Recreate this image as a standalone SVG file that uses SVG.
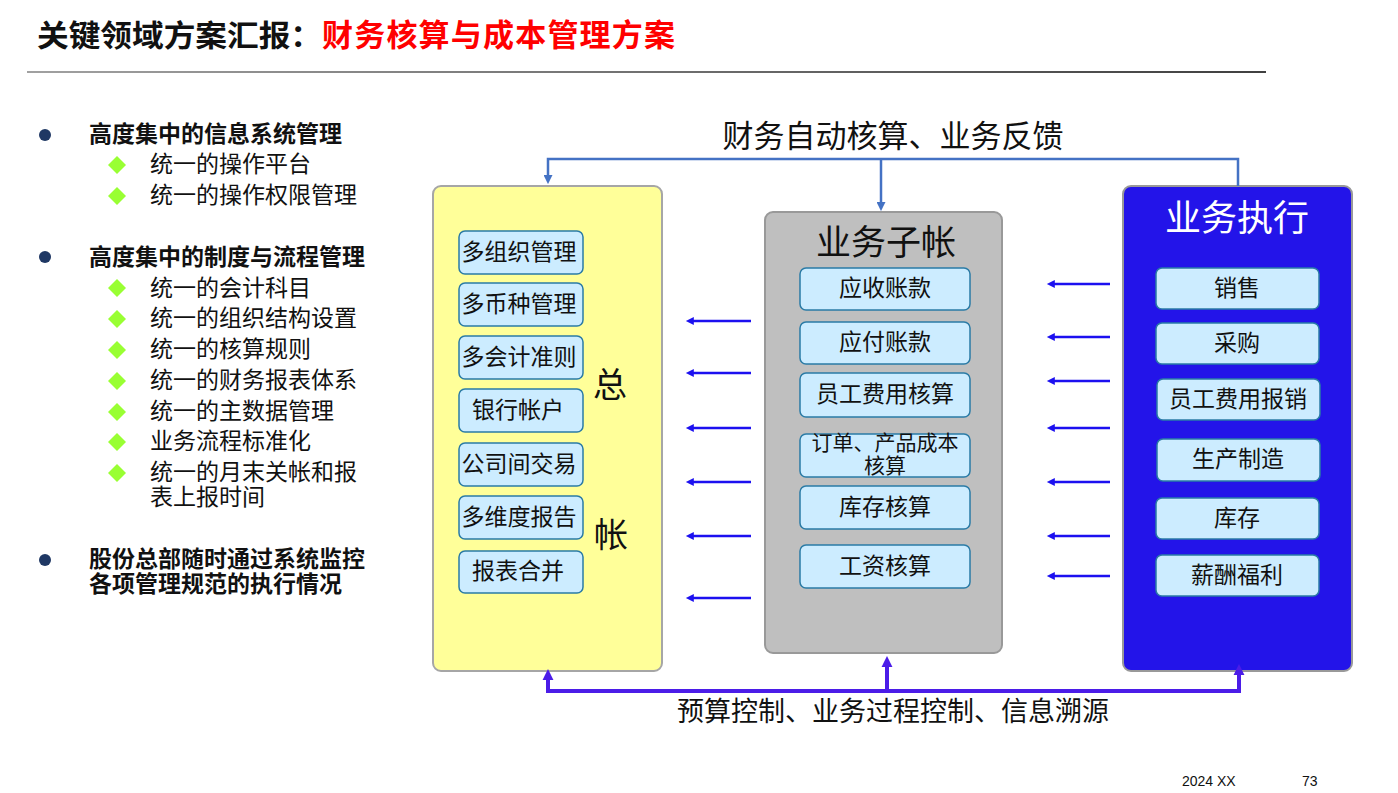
<svg xmlns="http://www.w3.org/2000/svg" width="1398" height="793" viewBox="0 0 1398 793">
<style>
text{font-family:"Liberation Sans","Noto Sans CJK SC",sans-serif;fill:#111;}
.b{font-weight:bold;}
.item{font-size:23px;}
.ctr{text-anchor:middle;}
.box{fill:#CCECFF;stroke:#2A7BA6;stroke-width:1.5;}
.harr{stroke:#1C10F0;stroke-width:2.5;fill:none;marker-end:url(#mh);}
.dia{fill:#99FF33;}
.dot{fill:#1F3864;}
</style>
<defs>
<linearGradient id="hl" gradientUnits="userSpaceOnUse" x1="27" y1="72" x2="1266" y2="72">
<stop offset="0" stop-color="#8a8a8a"/><stop offset="1" stop-color="#111"/>
</linearGradient>
<marker id="mh" viewBox="0 0 10 10" refX="1" refY="5" markerWidth="9" markerHeight="8" markerUnits="userSpaceOnUse" orient="auto">
<path d="M0,0 L10,5 L0,10 Z" fill="#1C10F0"/>
</marker>
<marker id="mt" viewBox="0 0 10 10" refX="1" refY="5" markerWidth="9" markerHeight="9" markerUnits="userSpaceOnUse" orient="auto">
<path d="M0,0 L10,5 L0,10 Z" fill="#4472C4"/>
</marker>
<marker id="mb" viewBox="0 0 10 10" refX="1" refY="5" markerWidth="11" markerHeight="12" markerUnits="userSpaceOnUse" orient="auto-start-reverse">
<path d="M0,0 L10,5 L0,10 Z" fill="#4B1CE8"/>
</marker>
</defs>
<rect width="1398" height="793" fill="#fff"/>

<g id="title">
<text x="37" y="46" font-size="30" class="b" textLength="285" lengthAdjust="spacingAndGlyphs">关键领域方案汇报：</text>
<text x="322" y="46" font-size="31" class="b" style="fill:#FF0000" textLength="353" lengthAdjust="spacing">财务核算与成本管理方案</text>
<rect x="27" y="71.2" width="1239" height="1.6" fill="url(#hl)"/>
</g>

<g id="bullets">
<circle class="dot" cx="45" cy="135" r="6"/>
<text x="89" y="142" class="item b">高度集中的信息系统管理</text>
<path class="dia" d="M117,156 L126,165 L117,174 L108,165 Z"/>
<text x="150" y="172" class="item">统一的操作平台</text>
<path class="dia" d="M117,187 L126,196 L117,205 L108,196 Z"/>
<text x="150" y="203" class="item">统一的操作权限管理</text>

<circle class="dot" cx="45" cy="257" r="6"/>
<text x="89" y="265" class="item b">高度集中的制度与流程管理</text>
<path class="dia" d="M117,279 L126,288 L117,297 L108,288 Z"/>
<text x="150" y="296" class="item">统一的会计科目</text>
<path class="dia" d="M117,310 L126,319 L117,328 L108,319 Z"/>
<text x="150" y="326" class="item">统一的组织结构设置</text>
<path class="dia" d="M117,341 L126,350 L117,359 L108,350 Z"/>
<text x="150" y="357" class="item">统一的核算规则</text>
<path class="dia" d="M117,372 L126,381 L117,390 L108,381 Z"/>
<text x="150" y="388" class="item">统一的财务报表体系</text>
<path class="dia" d="M117,403 L126,412 L117,421 L108,412 Z"/>
<text x="150" y="419" class="item">统一的主数据管理</text>
<path class="dia" d="M117,433 L126,442 L117,451 L108,442 Z"/>
<text x="150" y="449" class="item">业务流程标准化</text>
<path class="dia" d="M117,464 L126,473 L117,482 L108,473 Z"/>
<text x="150" y="480" class="item">统一的月末关帐和报</text>
<text x="150" y="505" class="item">表上报时间</text>

<circle class="dot" cx="45" cy="560" r="6"/>
<text x="89" y="567" class="item b">股份总部随时通过系统监控</text>
<text x="89" y="592" class="item b">各项管理规范的执行情况</text>
</g>

<g id="top-label">
<text x="893" y="147" font-size="31" class="ctr">财务自动核算、业务反馈</text>
</g>

<g id="general-ledger">
<rect x="433" y="186" width="229" height="485" rx="8" fill="#FFFF99" stroke="#A6A6A6" stroke-width="2"/>
<rect class="box" x="459" y="231" width="124" height="43" rx="6"/>
<text x="519" y="260" class="item ctr">多组织管理</text>
<rect class="box" x="459" y="283" width="124" height="43" rx="6"/>
<text x="519" y="312" class="item ctr">多币种管理</text>
<rect class="box" x="459" y="336" width="124" height="43" rx="6"/>
<text x="519" y="365" class="item ctr">多会计准则</text>
<rect class="box" x="459" y="389" width="124" height="43" rx="6"/>
<text x="518" y="418" class="item ctr">银行帐户</text>
<rect class="box" x="459" y="443" width="124" height="43" rx="6"/>
<text x="519" y="472" class="item ctr">公司间交易</text>
<rect class="box" x="459" y="496" width="124" height="43" rx="6"/>
<text x="519" y="525" class="item ctr">多维度报告</text>
<rect class="box" x="459" y="551" width="124" height="42" rx="6"/>
<text x="518" y="579" class="item ctr">报表合并</text>
<text x="610" y="397" font-size="34" class="ctr">总</text>
<text x="611" y="547" font-size="34" class="ctr">帐</text>
</g>

<g id="sub-ledger">
<rect x="765" y="212" width="237" height="441" rx="8" fill="#BFBFBF" stroke="#999" stroke-width="2"/>
<text x="886" y="255" font-size="35" class="ctr">业务子帐</text>
<rect class="box" x="800" y="268" width="170" height="42" rx="6"/>
<text x="885" y="296" class="item ctr">应收账款</text>
<rect class="box" x="800" y="322" width="170" height="42" rx="6"/>
<text x="885" y="350" class="item ctr">应付账款</text>
<rect class="box" x="800" y="373" width="170" height="44" rx="6"/>
<text x="885" y="402" class="item ctr">员工费用核算</text>
<rect class="box" x="800" y="434" width="170" height="43" rx="6"/>
<text x="885" y="450" font-size="21" class="ctr">订单、产品成本</text>
<text x="885" y="473" font-size="21" class="ctr">核算</text>
<rect class="box" x="800" y="486" width="170" height="43" rx="6"/>
<text x="885" y="515" class="item ctr">库存核算</text>
<rect class="box" x="800" y="545" width="170" height="43" rx="6"/>
<text x="885" y="574" class="item ctr">工资核算</text>
</g>

<g id="business-execution">
<rect x="1123" y="186" width="229" height="485" rx="8" fill="#2314E9" stroke="#999" stroke-width="2"/>
<text x="1237" y="231" font-size="36" class="ctr" style="fill:#fff">业务执行</text>
<rect class="box" x="1156" y="268" width="163" height="41" rx="6"/>
<text x="1237" y="296" class="item ctr">销售</text>
<rect class="box" x="1156" y="323" width="163" height="41" rx="6"/>
<text x="1237" y="351" class="item ctr">采购</text>
<rect class="box" x="1157" y="379" width="163" height="41" rx="6"/>
<text x="1238" y="407" class="item ctr">员工费用报销</text>
<rect class="box" x="1157" y="439" width="163" height="42" rx="6"/>
<text x="1238" y="467" class="item ctr">生产制造</text>
<rect class="box" x="1156" y="498" width="163" height="41" rx="6"/>
<text x="1237" y="526" class="item ctr">库存</text>
<rect class="box" x="1156" y="555" width="163" height="41" rx="6"/>
<text x="1237" y="583" class="item ctr">薪酬福利</text>
</g>

<g id="connectors">
<path d="M1238,186 V159 H548 V176" fill="none" stroke="#4472C4" stroke-width="2.5" marker-end="url(#mt)"/>
<path d="M881,159 V203" fill="none" stroke="#4472C4" stroke-width="2.5" marker-end="url(#mt)"/>
<path d="M548,679 V691 H1239 V674" fill="none" stroke="#4B1CE8" stroke-width="4" marker-start="url(#mb)" marker-end="url(#mb)"/>
<path d="M887,691 V666" fill="none" stroke="#4B1CE8" stroke-width="4" marker-end="url(#mb)"/>

<path class="harr" d="M1110,284 H1054"/>
<path class="harr" d="M1110,337 H1054"/>
<path class="harr" d="M1110,381 H1054"/>
<path class="harr" d="M1110,428 H1054"/>
<path class="harr" d="M1110,482 H1054"/>
<path class="harr" d="M1110,536 H1054"/>
<path class="harr" d="M1110,576 H1054"/>

<path class="harr" d="M751,321 H693"/>
<path class="harr" d="M751,373 H693"/>
<path class="harr" d="M751,428 H693"/>
<path class="harr" d="M751,482 H693"/>
<path class="harr" d="M751,536 H693"/>
<path class="harr" d="M751,598 H693"/>
</g>

<g id="bottom-label">
<text x="893" y="721" font-size="27" class="ctr">预算控制、业务过程控制、信息溯源</text>
</g>

<g id="footer">
<text x="1182" y="786" font-size="14">2024 XX</text>
<text x="1302" y="786" font-size="14">73</text>
</g>
</svg>
